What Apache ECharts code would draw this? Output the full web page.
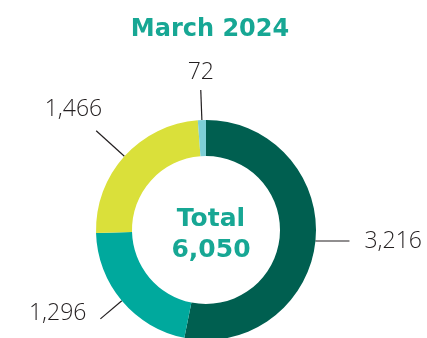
<!DOCTYPE html>
<html>
<head>
<meta charset="utf-8">
<script src="https://cdn.jsdelivr.net/npm/echarts@6/dist/echarts.min.js"></script>
<style>
  html, body { margin: 0; padding: 0; background: #ffffff; }
  #chart { width: 427px; height: 338px; }
</style>
</head>
<body>
<div id="chart"></div>
<script>
// Monthly breakdown, clockwise from 12 o'clock
const titleText = 'March 2024';
const categories = ['Group A', 'Group B', 'Group C', 'Group D'];
const values = [3216, 1296, 1466, 72];
const colors = ['#005F50', '#00A99D', '#DAE03A', '#7DCFD6'];

// Leader line lengths per slice: [radial segment, horizontal segment]
const leaderLengths = [[1, 33], [28, 0], [38, 0], [30, 0]];

const total = values.reduce((a, b) => a + b, 0);
const fmt = n => n.toLocaleString('en-US');

const data = categories.map((name, i) => ({
  name: name,
  value: values[i],
  itemStyle: { color: colors[i] },
  labelLine: { length: leaderLengths[i][0], length2: leaderLengths[i][1] }
}));

// Where each value label sits relative to the end of its leader line
const labelPlacement = [
  { align: 'left',   dx: 15, dy: 0 },
  { align: 'right',  dx: -14, dy: -5 },
  { align: 'right',  dx: 6,  dy: -21 },
  { align: 'center', dx: 0,  dy: -18 }
];

const chart = echarts.init(document.getElementById('chart'), null, { renderer: 'canvas' });

chart.setOption({
  animation: false,
  backgroundColor: '#ffffff',
  title: [
    {
      text: titleText,
      left: 205, top: 13, textAlign: 'center',
      textStyle: { fontFamily: 'DejaVu Sans', fontWeight: 'bold', fontSize: 24, color: '#17A794' }
    },
    {
      text: 'Total\n' + fmt(total),
      left: 206, top: 199, textAlign: 'center',
      textStyle: { fontFamily: 'DejaVu Sans', fontWeight: 'bold', fontSize: 25, lineHeight: 31, color: '#17A794' }
    }
  ],
  series: [{
    type: 'pie',
    center: [206, 230],
    radius: [74, 110],
    startAngle: 90,
    clockwise: true,
    avoidLabelOverlap: false,
    data: data,
    label: {
      show: true,
      position: 'outside',
      formatter: p => fmt(p.value),
      fontFamily: 'Open Sans',
      fontWeight: 300,
      fontSize: 23,
      color: '#231F20'
    },
    labelLine: {
      show: true,
      lineStyle: { color: '#231F20', width: 1.2 }
    },
    labelLayout: function (p) {
      const pts = p.labelLinePoints;
      if (!pts) return {};
      const end = pts[pts.length - 1];
      const pl = labelPlacement[p.dataIndex];
      return {
        x: end[0] + pl.dx,
        y: end[1] + pl.dy,
        align: pl.align,
        verticalAlign: 'middle',
        labelLinePoints: pts
      };
    },
    emphasis: { disabled: true }
  }]
});
</script>
</body>
</html>
